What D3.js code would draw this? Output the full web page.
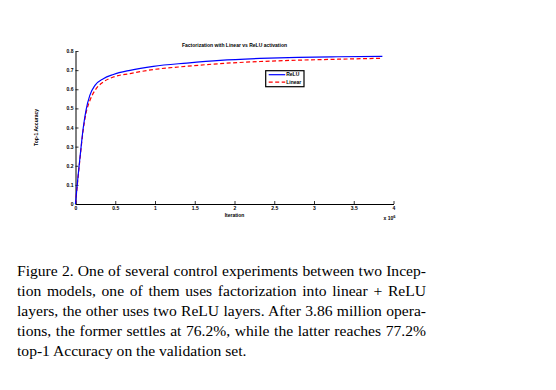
<!DOCTYPE html>
<html>
<head>
<meta charset="utf-8">
<script src="https://cdn.jsdelivr.net/npm/d3@7"></script>
<style>
  body { margin: 0; background: #fff; }
  #wrap { position: relative; width: 556px; height: 390px; }
  svg { position: absolute; left: 0; top: 0; }
  .caption {
    position: absolute; left: 17px; top: 261px; width: 409px;
    font-family: "Liberation Serif", "Times New Roman", serif;
    font-size: 15.6px; line-height: 20px; color: #000;
  }
  .caption div { text-align: justify; text-align-last: justify; white-space: nowrap; }
  .caption div.last { text-align-last: left; }
</style>
</head>
<body>
<div id="wrap">
  <div id="chart"></div>
  <div class="caption">
    <div>Figure 2. One of several control experiments between two Incep-</div>
    <div>tion models, one of them uses factorization into linear + ReLU</div>
    <div>layers, the other uses two ReLU layers. After 3.86 million opera-</div>
    <div>tions, the former settles at 76.2%, while the latter reaches 77.2%</div>
    <div class="last">top-1 Accuracy on the validation set.</div>
  </div>
</div>
<script>
// Data (iterations in units of 1e6)
const iterations = [0, 0.023, 0.057, 0.098, 0.132, 0.18, 0.245, 0.35, 0.476, 0.686, 0.98, 1.4, 1.82, 2.32, 2.8, 3.3, 3.86];
const reluAcc = [0, 0.107, 0.246, 0.40, 0.49, 0.568, 0.62, 0.655, 0.677, 0.699, 0.72, 0.737, 0.751, 0.761, 0.767, 0.770, 0.772];
const linearAcc = [0, 0.10, 0.24, 0.39, 0.475, 0.54, 0.594, 0.638, 0.664, 0.682, 0.703, 0.72, 0.734, 0.745, 0.752, 0.757, 0.762];
const xTicks = [0, 0.5, 1, 1.5, 2, 2.5, 3, 3.5, 4];
const yTicks = [0, 0.1, 0.2, 0.3, 0.4, 0.5, 0.6, 0.7, 0.8];
const seriesNames = ["ReLU", "Linear"];

const margin = { top: 51, left: 75.5 },
  width = 318,
  height = 153;

const svg = d3.select("#chart").append("svg")
  .attr("width", 556)
  .attr("height", 390);

const g = svg.append("g")
  .attr("transform", "translate(" + margin.left + "," + margin.top + ")")
  .style("font-family", "'Liberation Sans', Arial, sans-serif")
  .style("font-weight", "bold");

const x = d3.scaleLinear().domain([0, 4]).range([0, width]);
const y = d3.scaleLinear().domain([0, 0.8]).range([height, 0]);

// Axes with inward ticks
const fmt = d => d === 0 ? "0" : String(d);
const xAxis = g.append("g")
  .attr("transform", "translate(0," + height + ")")
  .call(d3.axisBottom(x).tickValues(xTicks).tickFormat(fmt).tickSize(-3).tickSizeOuter(0).tickPadding(3));
const yAxis = g.append("g")
  .call(d3.axisLeft(y).tickValues(yTicks).tickFormat(fmt).tickSize(-3).tickSizeOuter(0).tickPadding(2));

[xAxis, yAxis].forEach(a => {
  a.select(".domain").attr("stroke", "#000").attr("stroke-width", 1);
  a.selectAll(".tick line").attr("stroke", "#000").attr("stroke-width", 0.8);
  a.selectAll("text").attr("font-size", 5).attr("font-family", "'Liberation Sans', Arial, sans-serif").attr("font-weight", "bold").attr("fill", "#000");
});
xAxis.selectAll(".tick text").attr("dy", "0.5em");

// Lines
const line = d3.line()
  .x((d, i) => x(iterations[i]))
  .y(d => y(d))
  .curve(d3.curveMonotoneX);

g.append("path")
  .datum(linearAcc)
  .attr("fill", "none")
  .attr("stroke", "#ff0000")
  .attr("stroke-width", 1.2)
  .attr("stroke-dasharray", "4,2.5")
  .attr("d", line);

g.append("path")
  .datum(reluAcc)
  .attr("fill", "none")
  .attr("stroke", "#0000ff")
  .attr("stroke-width", 1.2)
  .attr("d", line);

// Title and labels
g.append("text")
  .attr("x", width / 2)
  .attr("y", -4)
  .attr("text-anchor", "middle")
  .attr("font-size", 5)
  .text("Factorization with Linear vs ReLU activation");

g.append("text")
  .attr("x", width / 2)
  .attr("y", height + 13)
  .attr("text-anchor", "middle")
  .attr("font-size", 5)
  .text("Iteration");

g.append("text")
  .attr("transform", "translate(-38," + (height / 2) + ") rotate(-90)")
  .attr("text-anchor", "middle")
  .attr("font-size", 5)
  .text("Top-1 Accuracy");

const expo = g.append("text")
  .attr("x", width - 10)
  .attr("y", height + 16)
  .attr("font-size", 5);
expo.append("tspan").text("x 10");
expo.append("tspan").attr("dy", -2.5).attr("font-size", 4).text("6");

// Legend
const legend = g.append("g").attr("transform", "translate(" + (265.7 - margin.left) + "," + (70.7 - margin.top) + ")");
legend.append("rect")
  .attr("width", 38.3)
  .attr("height", 16)
  .attr("fill", "#fff")
  .attr("stroke", "#000")
  .attr("stroke-width", 1.2);
const colors = ["#0000ff", "#ff0000"];
const dashes = [null, "4,2.5"];
seriesNames.forEach((name, i) => {
  const yy = 4 + i * 7.5;
  legend.append("line")
    .attr("x1", 3).attr("x2", 19.5)
    .attr("y1", yy).attr("y2", yy)
    .attr("stroke", colors[i])
    .attr("stroke-width", 1.2)
    .attr("stroke-dasharray", dashes[i]);
  legend.append("text")
    .attr("x", 20.5)
    .attr("y", yy + 1.8)
    .attr("font-size", 5)
    .text(name);
});
</script>
</body>
</html>
